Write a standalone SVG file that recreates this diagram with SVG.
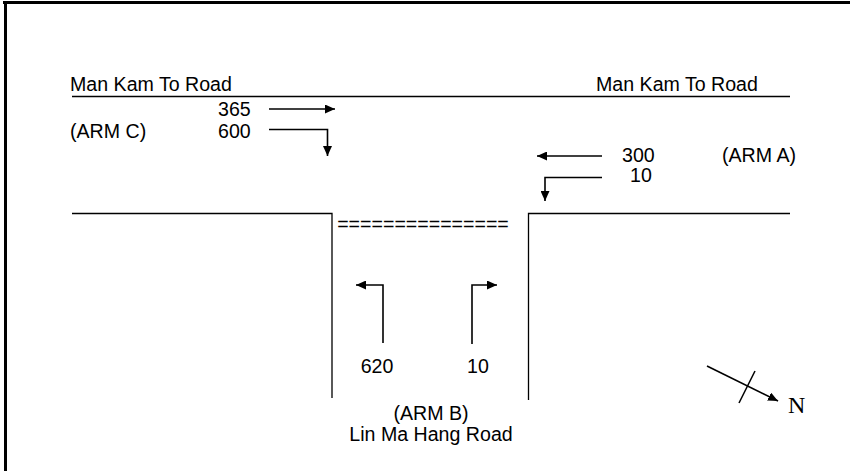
<svg xmlns="http://www.w3.org/2000/svg" width="850" height="471" viewBox="0 0 850 471">
<defs>
<style>
.t{font-family:"Liberation Sans",Arial,sans-serif;font-size:19.6px;fill:#000}
.ln{stroke:#000;stroke-width:1.3;fill:none}
.ar{stroke:#000;stroke-width:1.6;fill:none}
</style>
<marker id="ah" viewBox="0 0 10 9" refX="10" refY="4.5" markerWidth="10" markerHeight="9" markerUnits="userSpaceOnUse" orient="auto">
<path d="M0,0 L10,4.5 L0,9 Z" fill="#000"/>
</marker>
</defs>
<rect width="850" height="471" fill="#fff"/>
<g id="frame">
<line x1="3" y1="2.5" x2="850" y2="2.5" stroke="#000" stroke-width="3"/>
<line x1="5.5" y1="1" x2="5.5" y2="471" stroke="#000" stroke-width="3"/>
</g>
<g id="roads">
<line class="ln" x1="72" y1="96.5" x2="790" y2="96.5"/>
<polyline class="ln" points="72,213.5 332,213.5 332,398"/>
<polyline class="ln" points="790,213.5 528.5,213.5 528.5,400"/>
</g>
<g id="labels">
<text class="t" x="70" y="91">Man Kam To Road</text>
<text class="t" x="596" y="91">Man Kam To Road</text>
<text class="t" x="70" y="138">(ARM C)</text>
<text class="t" x="722" y="162">(ARM A)</text>
<text class="t" x="431" y="420" text-anchor="middle">(ARM B)</text>
<text class="t" x="431" y="441" text-anchor="middle">Lin Ma Hang Road</text>
<text class="t" x="423" y="231" text-anchor="middle">===============</text>
<text x="788" y="413" style="font-family:'Liberation Serif','Times New Roman',serif;font-size:24px">N</text>
</g>
<g id="volumes">
<text class="t" x="218" y="116">365</text>
<text class="t" x="218" y="138">600</text>
<text class="t" x="622" y="162">300</text>
<text class="t" x="630" y="182">10</text>
<text class="t" x="377" y="373" text-anchor="middle">620</text>
<text class="t" x="478" y="373" text-anchor="middle">10</text>
</g>
<g id="connectors">
<line class="ar" x1="269" y1="109" x2="335" y2="109" marker-end="url(#ah)"/>
<polyline class="ar" points="269,129.5 327.5,129.5 327.5,156" marker-end="url(#ah)"/>
<line class="ar" x1="602" y1="156" x2="537" y2="156" marker-end="url(#ah)"/>
<polyline class="ar" points="602,177.5 545,177.5 545,201" marker-end="url(#ah)"/>
<polyline class="ar" points="383,343 383,285 356,285" marker-end="url(#ah)"/>
<polyline class="ar" points="472,344 472,285 497,285" marker-end="url(#ah)"/>
<line class="ar" x1="707" y1="366" x2="778" y2="401" marker-end="url(#ah)"/>
<line class="ar" x1="739" y1="403" x2="755" y2="371"/>
</g>
</svg>
